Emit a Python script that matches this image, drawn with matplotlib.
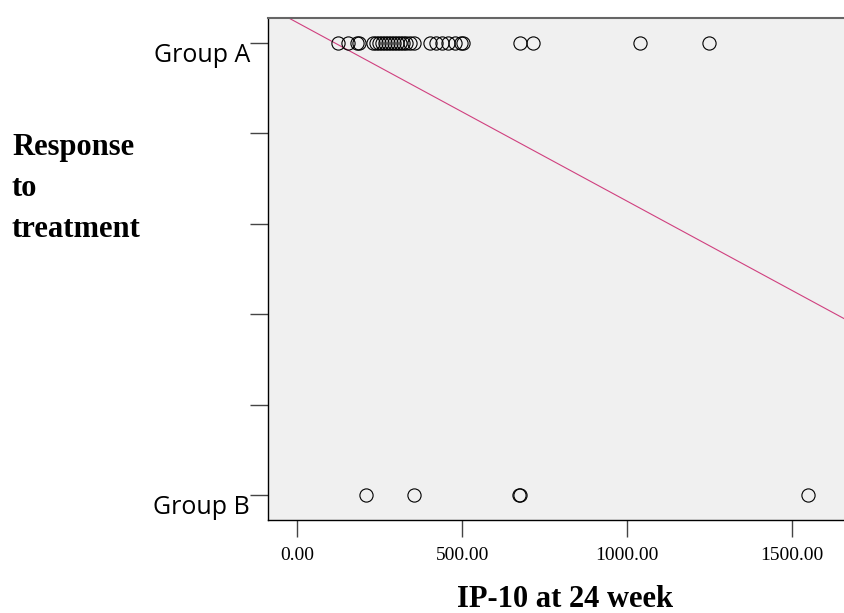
import matplotlib
matplotlib.use("Agg")
import matplotlib.pyplot as plt
import numpy as np

# Data
group_a_x = [123, 153, 181, 187, 229, 238, 247, 257, 266, 275, 284, 293, 302, 311,
             320, 329, 341, 353, 402, 420, 438, 457, 477, 496, 502, 675, 715, 1039, 1249]
group_b_x = [208, 354, 672, 674, 1549]
group_a_y = 1.0
group_b_y = 0.0
fit_intercept = 1.045
fit_slope = -0.000395
x_ticks = [0, 500, 1000, 1500]
x_ticklabels = ["0.00", "500.00", "1000.00", "1500.00"]
y_ticks = [0, 0.2, 0.4, 0.6, 0.8, 1.0]
y_ticklabels = ["Group B", "", "", "", "", "Group A"]

W, H = 845, 613
fig = plt.figure(figsize=(W / 100, H / 100), dpi=100)
fig.patch.set_facecolor("white")
ax = fig.add_axes([268 / W, (H - 519.5) / H, (862 - 268) / W, (519.5 - 17.6) / H])
ax.set_facecolor("#F0F0F0")

xlim = (-89, 1712)
ylim = (-0.0542, 1.0562)
ax.set_xlim(*xlim)
ax.set_ylim(*ylim)

xs = np.array(xlim)
ax.plot(xs, fit_intercept + fit_slope * xs, color="#D0407F", lw=0.8, zorder=2)

mk = dict(marker="o", ls="none", mfc="none", mec="black", mew=0.8, ms=9.5, zorder=3)
ax.plot(group_a_x, [group_a_y] * len(group_a_x), **mk)
ax.plot(group_b_x, [group_b_y] * len(group_b_x), **mk)

ax.set_xticks(x_ticks)
ax.set_xticklabels(x_ticklabels, family="Liberation Serif", fontsize=14)
ax.set_yticks(y_ticks)
ax.set_yticklabels(y_ticklabels, family="Open Sans", fontsize=18, va="top")
ax.tick_params(axis="x", length=12.5, width=1, color="#444444", pad=7)
ax.tick_params(axis="y", length=13, width=1, color="#444444", pad=0)
for lab in ax.get_yticklabels():
    lab.set_verticalalignment("top")

ax.spines["top"].set_color("#666666")
ax.spines["top"].set_linewidth(1.5)
ax.spines["left"].set_color("black")
ax.spines["bottom"].set_color("black")
ax.spines["left"].set_linewidth(1)
ax.spines["bottom"].set_linewidth(1)
ax.spines["right"].set_visible(False)

fig.text(565 / W, 1 - 607 / H, "IP-10 at 24 week", family="Liberation Serif",
         fontweight="bold", fontsize=22, ha="center", va="baseline")
fig.text(12 / W, 1 - 133 / H, "Response\nto\ntreatment", family="Liberation Serif",
         fontweight="bold", fontsize=22, ha="left", va="top", linespacing=1.55)

fig.savefig("out.png", dpi=100)
